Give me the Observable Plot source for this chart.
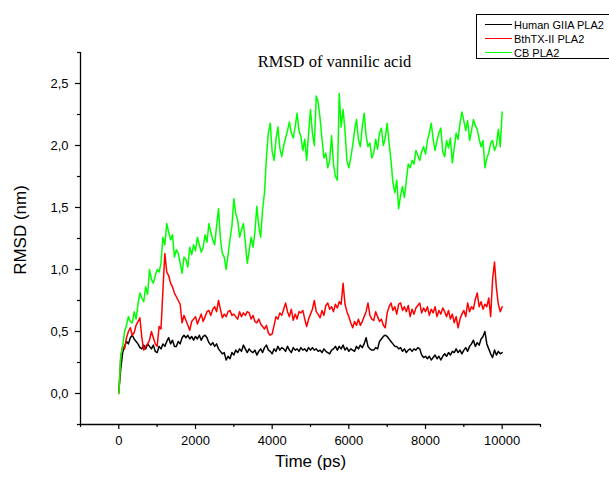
<!DOCTYPE html>
<html>
<head>
<meta charset="utf-8">
<script src="https://cdn.jsdelivr.net/npm/d3@7"></script>
<script src="https://cdn.jsdelivr.net/npm/@observablehq/plot@0.6"></script>
<style>
  html, body { margin: 0; padding: 0; background: #fff; }
  #chart { width: 609px; height: 478px; overflow: hidden; position: relative; }
</style>
</head>
<body>
<div id="chart"></div>
<script>
// Sampling times (ps), every 50 ps from 0 to 10000
const time = d3.range(0, 10001, 50);

const seriesNames = ["Human GIIA PLA2", "BthTX-II PLA2", "CB PLA2"];
const seriesColors = ["#000000", "#ff0000", "#00ff00"];

// RMSD (nm)
const human = [
  0.02,0.20,0.33,0.38,0.42,0.40,0.45,0.47,0.44,0.42,
  0.40,0.37,0.36,0.39,0.36,0.40,0.38,0.36,0.39,0.34,
  0.33,0.38,0.36,0.40,0.38,0.42,0.45,0.40,0.43,0.38,
  0.38,0.42,0.40,0.45,0.47,0.45,0.47,0.44,0.46,0.43,
  0.46,0.44,0.47,0.43,0.46,0.47,0.45,0.41,0.39,0.41,
  0.38,0.40,0.36,0.34,0.32,0.33,0.27,0.30,0.28,0.33,
  0.31,0.35,0.33,0.36,0.34,0.39,0.36,0.33,0.36,0.34,
  0.33,0.35,0.31,0.34,0.36,0.33,0.37,0.39,0.35,0.34,
  0.32,0.36,0.34,0.38,0.35,0.37,0.36,0.34,0.38,0.35,
  0.33,0.37,0.35,0.36,0.34,0.37,0.35,0.36,0.34,0.37,
  0.35,0.37,0.35,0.36,0.34,0.35,0.33,0.36,0.34,0.33,
  0.32,0.35,0.36,0.38,0.35,0.38,0.36,0.39,0.35,0.37,
  0.34,0.36,0.35,0.34,0.38,0.36,0.39,0.37,0.40,0.45,
  0.38,0.36,0.35,0.35,0.37,0.36,0.42,0.44,0.46,0.47,
  0.46,0.44,0.42,0.40,0.38,0.38,0.36,0.37,0.34,0.36,
  0.33,0.35,0.36,0.34,0.36,0.35,0.37,0.36,0.31,0.29,
  0.30,0.28,0.30,0.27,0.29,0.31,0.28,0.30,0.27,0.30,
  0.32,0.30,0.33,0.31,0.34,0.33,0.36,0.33,0.35,0.32,
  0.35,0.37,0.34,0.38,0.40,0.43,0.38,0.41,0.39,0.44,
  0.46,0.50,0.40,0.36,0.32,0.29,0.35,0.31,0.34,0.32,
  0.33
];

const bthtx = [
  0.00,0.30,0.38,0.36,0.45,0.50,0.53,0.47,0.49,0.55,
  0.58,0.61,0.45,0.35,0.38,0.40,0.43,0.50,0.45,0.40,
  0.38,0.54,0.52,0.83,1.13,0.98,0.95,0.89,0.86,0.81,
  0.78,0.75,0.72,0.57,0.63,0.59,0.55,0.51,0.58,0.60,
  0.62,0.56,0.60,0.64,0.58,0.62,0.66,0.67,0.63,0.68,
  0.70,0.66,0.75,0.68,0.61,0.64,0.62,0.66,0.67,0.63,
  0.64,0.62,0.60,0.66,0.62,0.65,0.63,0.66,0.65,0.60,
  0.63,0.58,0.57,0.60,0.56,0.54,0.52,0.55,0.49,0.47,
  0.48,0.55,0.62,0.60,0.65,0.63,0.68,0.73,0.66,0.62,
  0.68,0.59,0.64,0.60,0.66,0.65,0.67,0.60,0.54,0.60,
  0.64,0.68,0.75,0.66,0.64,0.61,0.67,0.63,0.71,0.73,
  0.68,0.70,0.66,0.72,0.69,0.74,0.72,0.89,0.72,0.66,
  0.62,0.57,0.53,0.58,0.55,0.60,0.55,0.58,0.62,0.66,
  0.73,0.63,0.60,0.59,0.66,0.62,0.58,0.60,0.55,0.53,
  0.65,0.70,0.73,0.67,0.70,0.64,0.72,0.73,0.67,0.70,
  0.66,0.71,0.62,0.68,0.64,0.69,0.71,0.73,0.65,0.69,
  0.66,0.70,0.63,0.68,0.65,0.70,0.62,0.67,0.64,0.69,
  0.66,0.62,0.67,0.60,0.64,0.57,0.62,0.53,0.60,0.64,
  0.67,0.62,0.73,0.66,0.70,0.68,0.76,0.81,0.70,0.74,
  0.68,0.72,0.70,0.77,0.62,0.92,1.06,0.85,0.72,0.66,
  0.70
];

const cb = [
  0.00,0.30,0.38,0.50,0.55,0.62,0.58,0.57,0.66,0.60,
  0.72,0.81,0.77,0.74,0.86,0.80,1.00,0.92,0.89,0.95,
  1.00,0.98,1.05,1.26,1.20,1.37,1.30,1.24,1.28,1.10,
  1.16,1.13,1.05,0.97,1.10,1.08,1.02,1.18,1.12,1.20,
  1.15,1.26,1.20,1.14,1.18,1.28,1.22,1.37,1.30,1.24,
  1.20,1.35,1.49,1.25,1.13,1.10,1.00,1.12,1.24,1.35,
  1.57,1.45,1.40,1.26,1.32,1.37,1.22,1.05,1.15,1.26,
  1.18,1.30,1.51,1.35,1.26,1.48,1.62,1.90,2.10,2.18,
  1.95,1.88,2.05,2.15,1.98,1.91,2.00,2.06,2.12,2.19,
  2.10,2.06,2.15,2.26,2.12,2.07,1.96,2.05,1.88,2.10,
  2.29,2.10,2.00,2.40,2.35,2.22,2.05,1.90,1.94,1.82,
  1.88,2.08,1.85,1.75,1.72,2.42,2.15,2.29,2.12,1.88,
  1.82,1.90,2.00,2.12,2.21,2.05,1.99,2.15,2.26,2.08,
  1.99,2.02,1.90,1.94,2.05,1.97,2.10,2.14,2.00,2.06,
  2.18,2.02,1.88,1.70,1.62,1.72,1.49,1.60,1.67,1.58,
  1.72,1.85,1.82,1.88,1.85,1.96,1.92,1.88,1.95,1.99,
  1.93,2.04,2.10,2.18,2.05,1.96,2.04,2.10,2.14,1.95,
  1.91,2.04,1.98,2.06,1.86,1.98,2.10,2.05,2.18,2.27,
  2.20,2.12,2.20,2.04,2.12,2.21,2.16,2.13,2.05,1.99,
  2.04,1.82,1.90,1.94,2.02,2.04,1.96,2.00,2.13,1.99,
  2.27
];

const xMajorTicks = [0, 2000, 4000, 6000, 8000, 10000];
const xMinorTicks = [-1000, 1000, 3000, 5000, 7000, 9000, 11000];
const yMajorTicks = [0, 0.5, 1.0, 1.5, 2.0, 2.5];
const yMinorTicks = [-0.25, 0.25, 0.75, 1.25, 1.75, 2.25, 2.75];

const titleText = "RMSD of vannilic acid";
const xLabel = "Time (ps)";
const yLabel = "RMSD (nm)";

const allSeries = [human, bthtx, cb];
const rows = allSeries.map((vals, s) => time.map((t, i) => ({t, v: vals[i], s: seriesNames[s]})));

const W = 609, H = 478;
const axisFont = "'Liberation Sans', Arial, sans-serif";

const plot = Plot.plot({
  width: W,
  height: H,
  marginLeft: 80,
  marginRight: 69,
  marginTop: 52,
  marginBottom: 54,
  x: {domain: [-1000, 11000]},
  y: {domain: [-0.25, 2.75]},
  style: {fontFamily: axisFont, fontSize: "13px", background: "#fff", color: "#000"},
  marks: [
    ...rows.map((r, s) => Plot.line(r, {x: "t", y: "v", stroke: seriesColors[s], strokeWidth: 1.5})),
    Plot.ruleX([-1000], {stroke: "#000", strokeWidth: 1.3}),
    Plot.ruleY([-0.25], {stroke: "#000", strokeWidth: 1.3}),
    Plot.axisX(xMajorTicks, {tickSize: 5, tickPadding: 6, tickFormat: d => String(d), label: null, strokeWidth: 1.2, fontSize: 13}),
    Plot.axisX(xMinorTicks, {tickSize: 3, tickFormat: () => "", label: null, strokeWidth: 1.2}),
    Plot.axisY(yMajorTicks, {tickSize: 5, tickPadding: 7, tickFormat: d => d.toFixed(1).replace(".", ","), label: null, strokeWidth: 1.2, fontSize: 13}),
    Plot.axisY(yMinorTicks, {tickSize: 3, tickFormat: () => "", label: null, strokeWidth: 1.2})
  ]
});

document.getElementById("chart").appendChild(plot);

// Title, axis labels and legend as SVG text
const svg = d3.select(plot);
svg.append("text")
  .attr("x", 334.5).attr("y", 66.5)
  .attr("text-anchor", "middle")
  .style("font-family", "'Liberation Serif', 'Times New Roman', serif")
  .style("font-size", "16.5px")
  .attr("fill", "#000")
  .text(titleText);

svg.append("text")
  .attr("x", 310.5).attr("y", 467)
  .attr("text-anchor", "middle")
  .style("font-family", axisFont)
  .style("font-size", "17px")
  .attr("fill", "#000")
  .text(xLabel);

svg.append("text")
  .attr("transform", "translate(26,230) rotate(-90)")
  .attr("text-anchor", "middle")
  .style("font-family", axisFont)
  .style("font-size", "17px")
  .attr("fill", "#000")
  .text(yLabel);

const lg = svg.append("g");
lg.append("rect")
  .attr("x", 476.5).attr("y", 14.5).attr("width", 140).attr("height", 44)
  .attr("fill", "#fff").attr("stroke", "#000").attr("stroke-width", 1);
seriesNames.forEach((name, i) => {
  const y = 24.5 + i * 14;
  lg.append("line")
    .attr("x1", 485).attr("x2", 512).attr("y1", y).attr("y2", y)
    .attr("stroke", seriesColors[i]).attr("stroke-width", 1);
  lg.append("text")
    .attr("x", 514).attr("y", y + 4)
    .attr("text-anchor", "start")
    .style("text-anchor", "start")
    .style("font-family", axisFont)
    .style("font-size", "11px")
    .attr("fill", "#000")
    .text(name);
});
</script>
</body>
</html>
